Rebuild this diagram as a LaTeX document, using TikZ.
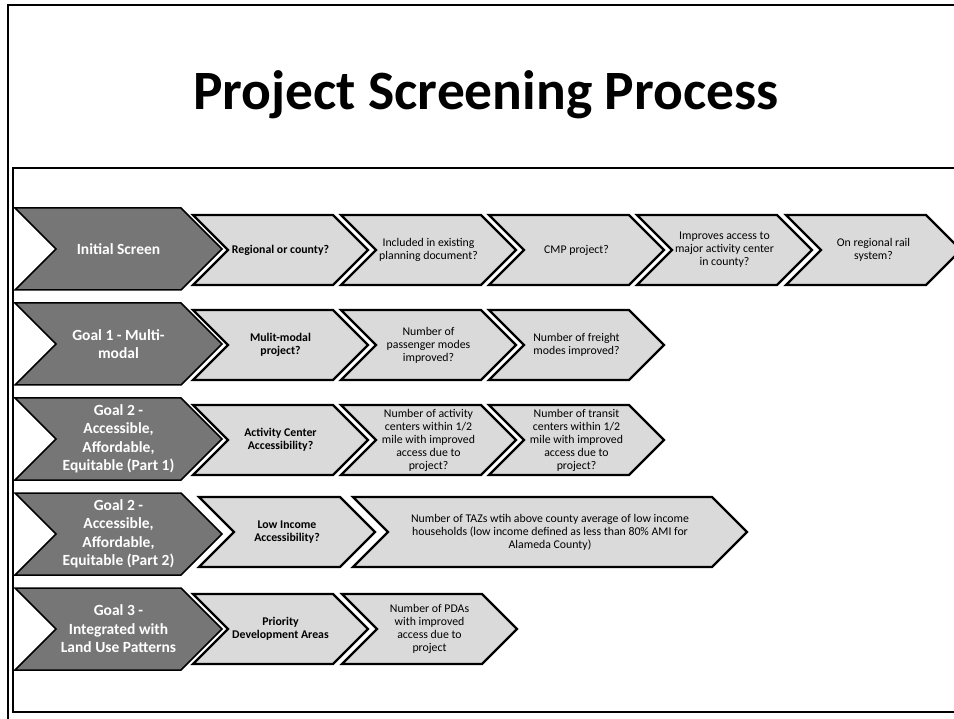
\documentclass[tikz,border=0pt]{standalone}
\usepackage{fontspec}
\setmainfont{Carlito}
\usetikzlibrary{positioning}
\definecolor{goalgray}{HTML}{767676}
\definecolor{askgray}{HTML}{DADADA}
\pgfkeys{tikz/goalchev/.style={draw=black, line width=1.5pt, fill=goalgray}}
\pgfkeys{tikz/askchev/.style={draw=black, line width=2.2pt, fill=askgray}}
% chevron: style, left x, centre y, top width, half height
\newcommand{\chevron}[5]{\path[#1] (#2,#3-#5) -- ++(#4,0) -- ++(#5,#5) -- ++(-#5,#5) -- ++(-#4,0) -- ++(#5,-#5) -- cycle;}

\begin{document}
\begin{tikzpicture}[x=1pt, y=-1pt,
  goal/.style = {text=white, font=\fontsize{15.5}{18.5}\selectfont\bfseries,
    align=center, inner sep=0pt},
  ask/.style = {font=\fontsize{11.8}{13}\selectfont, align=center, inner sep=0pt}
  ]
  \useasboundingbox (0,0) rectangle (954,719);
  \clip (0,0) rectangle (954,719);
  % frames
  \draw[line width=2pt] (8,725) -- (8,5) -- (960,5);
  \draw[line width=2pt] (960,168) -- (13,168) -- (13,712) -- (960,712);
  \node[font=\fontsize{55.5}{60}\selectfont\bfseries, anchor=base] (title) at (486,110) {Project Screening Process};
  % goals
  \foreach \c/\n/\t in {249/init/{Initial Screen},
      344/goalone/{Goal 1 - Multi-\\modal},
      439/goaltwoa/{Goal 2 -\\Accessible,\\Affordable,\\Equitable (Part 1)},
      534/goaltwob/{Goal 2 -\\Accessible,\\Affordable,\\Equitable (Part 2)},
      629/goalthree/{Goal 3 -\\Integrated with\\Land Use Patterns}}{
    \chevron{goalchev}{15}{\c}{166}{41}
    \node[goal] (\n) at (118.5,\c) {\t};
  }
  % questions
  \foreach \x/\c/\w/\n/\t in {193/250/140/regional/{\textbf{Regional or county?}},
      341/250/140/planning/{Included in existing\\planning document?},
      489/250/140/cmp/{CMP project?},
      637/250/140/activity/{Improves access to\\major activity center\\in county?},
      786/250/140/rail/{On regional rail\\system?},
      193/345/140/multimodal/{\textbf{Mulit-modal}\\\textbf{project?}},
      341/345/140/passenger/{Number of\\passenger modes\\improved?},
      489/345/140/freight/{Number of freight\\modes improved?},
      193/440/140/centeracc/{\textbf{Activity Center}\\\textbf{Accessibility?}},
      341/440/140/centers/{Number of activity\\centers within 1/2\\mile with improved\\access due to\\project?},
      489/440/140/transit/{Number of transit\\centers within 1/2\\mile with improved\\access due to\\project?},
      199/532/141/lowincome/{\textbf{Low Income}\\\textbf{Accessibility?}},
      353/532/359/taz/{Number of TAZs wtih above county average of low income\\households (low income defined as less than 80\% AMI for\\Alameda County)},
      193/629/140/pda/{\textbf{Priority}\\\textbf{Development Areas}},
      342/629/140/pdaaccess/{Number of PDAs\\with improved\\access due to\\project}}{
    \chevron{askchev}{\x}{\c}{\w}{35}
    \node[ask] (\n) at ({\x+(\w+35)/2},\c) {\t};
  }
\end{tikzpicture}
\end{document}
